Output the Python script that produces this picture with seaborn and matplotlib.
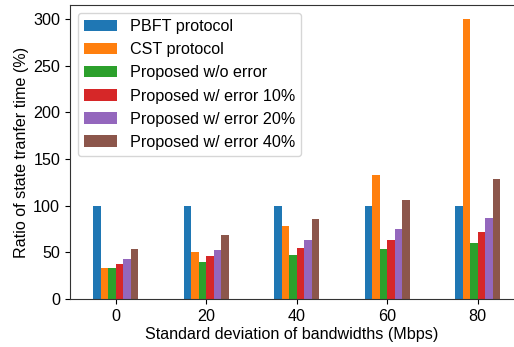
import numpy as np
import pandas as pd
import matplotlib
matplotlib.use("Agg")
import matplotlib.pyplot as plt
import seaborn as sns

# Standard deviation of bandwidths (Mbps)
std_dev = ["0", "20", "40", "60", "80"]

# Ratio of state transfer time (%) for each method
pbft = [100, 100, 100, 100, 100]
cst = [33.3, 50.4, 78.3, 133, 300]
proposed_no_err = [33.3, 39.7, 47.2, 53.6, 60]
proposed_err10 = [37.5, 46.1, 54.7, 63.3, 71.9]
proposed_err20 = [42.9, 52.6, 63.3, 75.1, 86.9]
proposed_err40 = [53.6, 68.6, 85.8, 106.2, 128.7]

methods = [
    "PBFT protocol",
    "CST protocol",
    "Proposed w/o error",
    "Proposed w/ error 10%",
    "Proposed w/ error 20%",
    "Proposed w/ error 40%",
]
series = [pbft, cst, proposed_no_err, proposed_err10, proposed_err20, proposed_err40]

rows = []
for name, vals in zip(methods, series):
    for x, v in zip(std_dev, vals):
        rows.append({"std": x, "method": name, "ratio": v})
df = pd.DataFrame(rows)

sns.set_style("ticks")
plt.rcParams["font.family"] = ["Liberation Sans", "DejaVu Sans"]
plt.rcParams.update({
    "text.color": "black",
    "axes.labelcolor": "black",
    "xtick.color": "black",
    "ytick.color": "black",
    "axes.edgecolor": "0.2",
})
fs = 11.6

fig = plt.figure(figsize=(5.14, 3.47), dpi=100)
ax = fig.add_axes([0.136, 0.138, 0.864, 0.848])

sns.barplot(
    data=df, x="std", y="ratio", hue="method",
    order=std_dev, hue_order=methods,
    palette="tab10", saturation=1, width=0.5,
    errorbar=None, linewidth=0, ax=ax,
)

ax.set_xlim(-0.505, 4.40)
ax.set_ylim(0, 315)
ax.set_yticks([0, 50, 100, 150, 200, 250, 300])
ax.set_xlabel("Standard deviation of bandwidths (Mbps)", fontsize=fs, labelpad=2)
ax.set_ylabel("Ratio of state tranfer time (%)", fontsize=fs, labelpad=3)
ax.tick_params(labelsize=fs, length=3.5, width=0.8)
ax.spines["right"].set_visible(False)

handles, labels = ax.get_legend_handles_labels()
ax.legend(handles, labels, loc="upper left", fontsize=fs, frameon=True,
          labelspacing=0.5, borderaxespad=0.5)

fig.savefig("out.png", dpi=100)
